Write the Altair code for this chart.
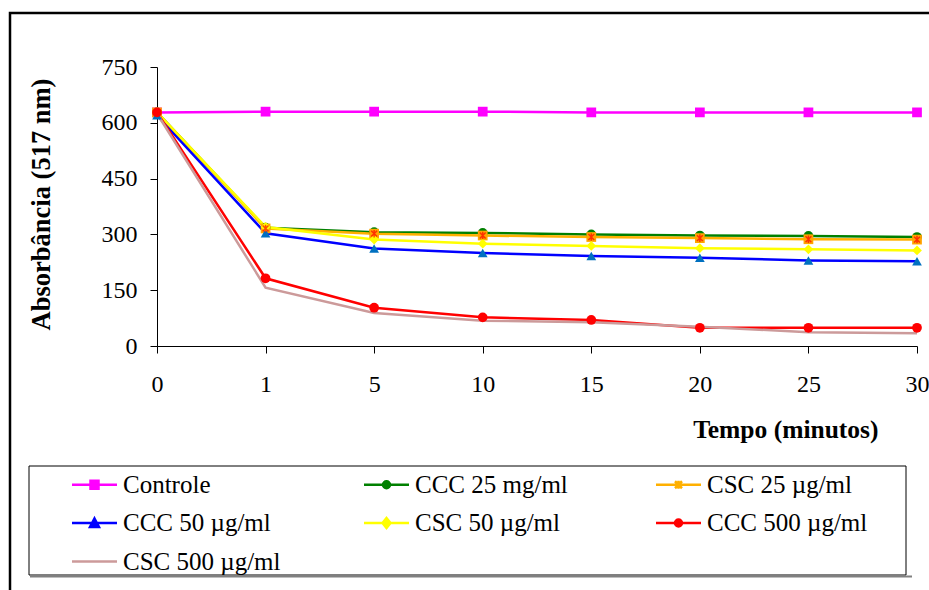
import altair as alt
import pandas as pd

# ---- data ----
tempo = ["0", "1", "5", "10", "15", "20", "25", "30"]
series = ["Controle", "CCC 25 mg/ml", "CSC 25 µg/ml", "CCC 50 µg/ml",
          "CSC 50 µg/ml", "CCC 500 µg/ml", "CSC 500 µg/ml"]
controle = [628, 630, 630, 630, 628, 628, 628, 628]
ccc25 = [628, 318, 306, 304, 300, 297, 296, 293]
csc25 = [628, 316, 302, 297, 293, 290, 287, 286]
ccc50 = [620, 303, 262, 250, 242, 237, 230, 228]
csc50 = [628, 320, 286, 275, 269, 263, 260, 257]
ccc500 = [628, 182, 103, 77, 70, 49, 49, 49]
csc500 = [625, 157, 89, 68, 64, 52, 37, 34]

line_colors = ["#FF00FF", "#008000", "#FFB000", "#0000FF", "#FFFF00", "#FF0000", "#CC9A9A"]
marker_colors = ["#FF00FF", "#008000", "#FFA500", "#0070C0", "#FFFF00", "#FF0000", "#CC9A9A"]
marker_shapes = ["square", "circle", "square", "triangle-up", "diamond", "circle", "M-0.6,0H0.6"]
legend_shapes = [
    "M-4.5,0H4.5M-0.8,-0.8H0.8V0.8H-0.8Z",
    "M-4.5,0H4.5M-0.7,0A0.7,0.7 0 1,0 0.7,0A0.7,0.7 0 1,0 -0.7,0Z",
    "M-4.5,0H4.5M-0.7,-0.7L0.7,0.7M-0.7,0.7L0.7,-0.7M0,-0.8V0.8",
    "M-4.5,0H4.5M0,-0.9L0.9,0.8H-0.9Z",
    "M-4.5,0H4.5M0,-1L0.8,0L0,1L-0.8,0Z",
    "M-4.5,0H4.5M-0.7,0A0.7,0.7 0 1,0 0.7,0A0.7,0.7 0 1,0 -0.7,0Z",
    "M-4.5,0H4.5",
]

values = [controle, ccc25, csc25, ccc50, csc50, ccc500, csc500]
rows = []
for name, vals in zip(series, values):
    for i, (t, v) in enumerate(zip(tempo, vals)):
        rows.append({"serie": name, "tempo": t, "idx": i, "abs": v})
df = pd.DataFrame(rows)

FONT = "Liberation Serif, Times New Roman, serif"

x_enc = alt.X("tempo:O", sort=tempo, scale=alt.Scale(type="point", padding=0),
              axis=alt.Axis(title="Tempo (minutos)", labelAngle=0, labelFontSize=24,
                            labelFont=FONT, labelPadding=19, tickSize=7,
                            titleFont=FONT, titleFontSize=25.5, titleFontWeight="bold",
                            titleAlign="right", titleX=721, titleY=91,
                            titleBaseline="alphabetic", domainColor="black",
                            tickColor="black", labelColor="black", titleColor="black"))
y_enc = alt.Y("abs:Q", scale=alt.Scale(domain=[0, 750], nice=False, zero=True),
              axis=alt.Axis(title="Absorbância (517 nm)", values=[0, 150, 300, 450, 600, 750],
                            grid=False, labelFontSize=24, labelFont=FONT, labelPadding=13,
                            tickSize=7, titleFont=FONT, titleFontSize=26.5,
                            titleFontWeight="bold", titleX=-116, titleY=137,
                            titleAlign="center", titleBaseline="middle",
                            domainColor="black", tickColor="black",
                            labelColor="black", titleColor="black"))

lines = alt.Chart().mark_line(strokeWidth=2.5).encode(
    x=x_enc, y=y_enc,
    color=alt.Color("serie:N", scale=alt.Scale(domain=series, range=line_colors), legend=None),
    detail="serie:N",
    order="idx:Q",
)

points = alt.Chart().mark_point(filled=True, size=95, opacity=1).encode(
    x=x_enc, y=y_enc,
    color=alt.Color("serie:N", scale=alt.Scale(domain=series, range=marker_colors), legend=None),
    shape=alt.Shape("serie:N", scale=alt.Scale(domain=series, range=marker_shapes), legend=None),
)

stars = alt.Chart().mark_point(filled=False, size=70, color="#FF0000", strokeWidth=1.5,
                               shape="M-0.7,-0.7L0.7,0.7M-0.7,0.7L0.7,-0.7M0,-0.9V0.9").encode(
    x=x_enc, y=y_enc,
).transform_filter(alt.datum.serie == "CSC 25 µg/ml")

legend_layer = alt.Chart().mark_point(filled=True, opacity=1).encode(
    x=x_enc, y=y_enc,
    fill=alt.Fill("serie:N", scale=alt.Scale(domain=series, range=line_colors),
                  legend=alt.Legend(title=None, orient="none", legendX=-75, legendY=405,
                                    direction="horizontal",
                                    columns=3, gridAlign="all", columnPadding=75,
                                    rowPadding=12.5, symbolSize=100, symbolStrokeWidth=2.5,
                                    symbolOffset=0, labelOffset=16, labelFont=FONT,
                                    labelFontSize=25, labelColor="black", padding=0,
                                    labelLimit=400)),
    stroke=alt.Stroke("serie:N", scale=alt.Scale(domain=series, range=line_colors)),
    shape=alt.Shape("serie:N", scale=alt.Scale(domain=series, range=legend_shapes)),
).transform_filter("datum.idx < 0")

frame = alt.Chart(alt.Data(values=[{"k": 1}])).mark_rect(
    filled=False, stroke="black", strokeWidth=2.5).encode(
    x=alt.value(-147), x2=alt.value(900), y=alt.value(-54), y2=alt.value(600))

legend_box = alt.Chart(alt.Data(values=[{"k": 1}])).mark_rect(
    filled=False, stroke="black", strokeWidth=1).encode(
    x=alt.value(-128), x2=alt.value(749), y=alt.value(399), y2=alt.value(508))

legend_shadow = alt.Chart(alt.Data(values=[{"k": 1}])).mark_rule(
    stroke="#808080", strokeWidth=2).encode(
    x=alt.value(-127), x2=alt.value(755), y=alt.value(509.5))

chart = alt.layer(
    frame, legend_box, legend_shadow, lines, points, stars, legend_layer, data=df
).resolve_scale(
    color="independent", shape="independent", fill="independent", stroke="independent"
).properties(
    width=760, height=279,
    padding={"left": 157, "top": 67, "right": 12, "bottom": 244},
    autosize=alt.AutoSizeParams(type="none"),
).configure(
    background="white", font=FONT
).configure_view(stroke=None).configure_axis(
    labelFont=FONT, titleFont=FONT
).configure_legend(labelFont=FONT)

chart.save("out.html", embed_options={"renderer": "svg", "actions": False})
